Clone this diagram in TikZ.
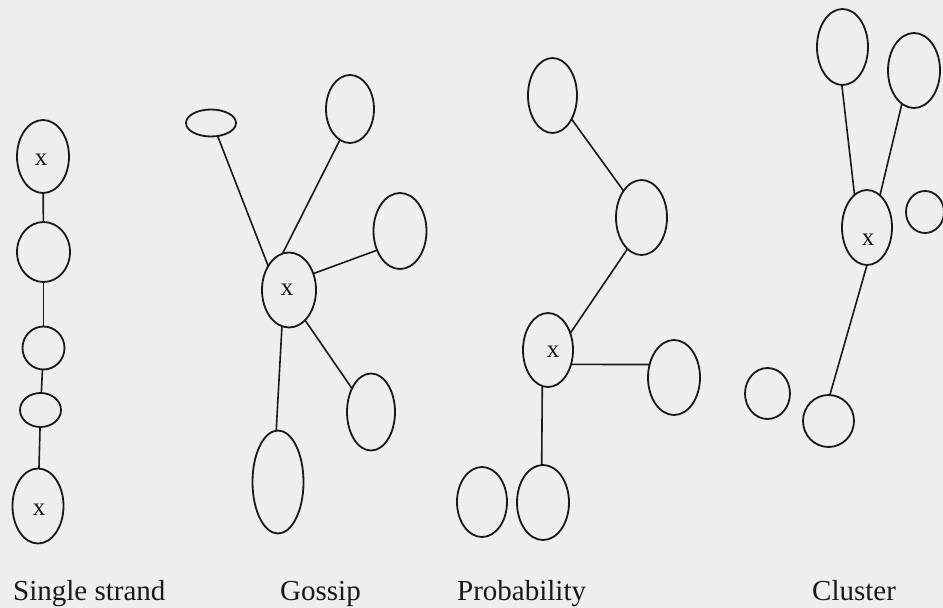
\documentclass[tikz,border=0pt]{standalone}
\usepackage{fontspec}
\setmainfont{Liberation Serif}
\usetikzlibrary{shapes.geometric}
\definecolor{bg}{RGB}{238,238,238}
\definecolor{ink}{RGB}{25,25,25}
\tikzset{
  ell/.style={draw=ink, line width=1.8pt, ellipse, inner sep=0pt, outer sep=0pt},
  link/.style={draw=ink, line width=1.6pt},
  xlab/.style={inner sep=0pt, text=ink, font=\fontsize{25}{28}\selectfont},
  captxt/.style={inner sep=0pt, anchor=base west, text=ink, font=\fontsize{29}{34}\selectfont}
}
\begin{document}
\begin{tikzpicture}[x=1pt,y=-1pt]
\fill[bg] (0,0) rectangle (943,608);
\useasboundingbox (0,0) rectangle (943,608);

% Single strand
\node[ell, minimum width=52, minimum height=73] (s1) at (43,156.5) {};
\node[ell, minimum width=53, minimum height=60] (s2) at (43.5,252) {};
\node[ell, minimum width=42, minimum height=43] (s3) at (43.5,348) {};
\node[ell, minimum width=41, minimum height=34] (s4) at (40.5,410) {};
\node[ell, minimum width=51, minimum height=75] (s5) at (38,506) {};
\node[xlab] (s1x) at (41,160) {x};
\node[xlab] (s5x) at (39,510) {x};
\draw[link] (s1) -- (s2);
\draw[link] (s2) -- (s3);
\draw[link] (s3) -- (s4);
\draw[link] (s4) -- (s5);

% Gossip
\node[ell, minimum width=54, minimum height=75] (g0) at (289,290) {};
\node[ell, minimum width=50, minimum height=27] (ga) at (211,123) {};
\node[ell, minimum width=48, minimum height=68] (gb) at (350,109) {};
\node[ell, minimum width=53, minimum height=76] (gc) at (400,231) {};
\node[ell, minimum width=48, minimum height=77] (gd) at (371,412) {};
\node[ell, minimum width=51, minimum height=103] (ge) at (278,482) {};
\node[xlab] (g0x) at (287,290) {x};
\draw[link] (ga.-63) -- (g0.131);
\draw[link] (gb.-108) -- (g0.100);
\draw[link] (gc.-140) -- (g0.34);
\draw[link] (gd.129) -- (g0.-62);
\draw[link] (ge.92) -- (g0.-101);

% Probability
\node[ell, minimum width=49, minimum height=75] (p1) at (552.5,95.5) {};
\node[ell, minimum width=51, minimum height=75] (p2) at (641.5,217.5) {};
\node[ell, minimum width=50, minimum height=74] (p0) at (548,350) {};
\node[ell, minimum width=52, minimum height=75] (p3) at (674,377.5) {};
\node[ell, minimum width=52, minimum height=75] (p4) at (543,502.5) {};
\node[ell, minimum width=50, minimum height=70] (p5) at (482,502) {};
\node[xlab] (p0x) at (553,352) {x};
\draw[link] (p1.-51.5) -- (p2.124.6);
\draw[link] (p2.-114) -- (p0.37);
\draw[link] (p0.-32) -- (p3.152);
\draw[link] (p0.-99) -- (p4.92);

% Cluster
\node[ell, minimum width=51, minimum height=76] (c1) at (842.5,47) {};
\node[ell, minimum width=52, minimum height=75] (c2) at (914,70.5) {};
\node[ell, minimum width=50, minimum height=75] (c0) at (867,227.5) {};
\node[ell, minimum width=38, minimum height=42] (c3) at (925,212) {};
\node[ell, minimum width=45, minimum height=51] (c4) at (767.5,393.5) {};
\node[ell, minimum width=51, minimum height=52] (c5) at (828.5,421) {};
\node[xlab] (c0x) at (868,240) {x};
\draw[link] (c1.-91) -- (c0.111);
\draw[link] (c2.-110) -- (c0.68);
\draw[link] (c0.-90) -- (c5.87);

% Captions
\node[captxt] (t1) at (13,600) {Single strand};
\node[captxt] (t2) at (280,600) {Gossip};
\node[captxt] (t3) at (457,600) {Probability};
\node[captxt] (t4) at (812,600) {Cluster};
\end{tikzpicture}
\end{document}
